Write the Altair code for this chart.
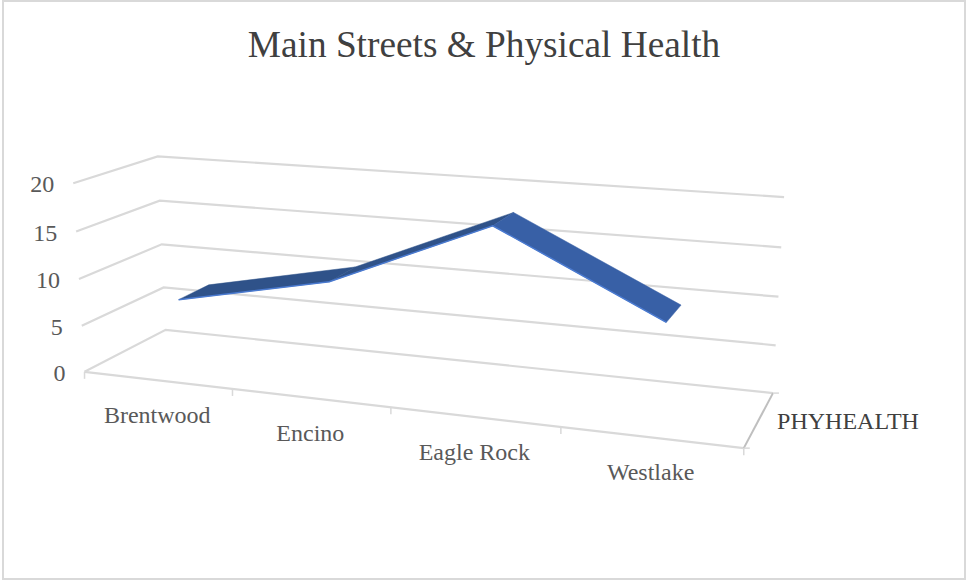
import altair as alt
import numpy as np
import pandas as pd

# Chart values
categories = ["Brentwood", "Encino", "Eagle Rock", "Westlake"]
phyhealth = [7.3, 10.7, 17.7, 9.7]
value_ticks = [0, 5, 10, 15, 20]
series_name = "PHYHEALTH"
chart_title = "Main Streets & Physical Health"

GRID = "#d9d9d9"
AXIS = "#bfbfbf"
LABEL = "#595959"
RISING = "#2f5289"
FALLING = "#3860a6"
EDGE = "#4a7ad0"
FONT = "Liberation Serif"

# Perspective camera for the 3-D box: (along categories, depth, value / 20) to screen
CAMERA = np.array([
    [561.15548, 96.3121, -13.53792, 84.53319],
    [17.21601, -11.69376, -194.26409, 371.83343],
    [-0.13187, 0.09182, -0.0309, 1.0],
])
RIBBON_FRONT, RIBBON_BACK = 0.30, 0.69


def project(along, depth, level):
    h = CAMERA @ np.array([along, depth, level / 20.0, 1.0])
    return float(h[0] / h[2]), float(h[1] / h[2])


def slot(i):
    return (i + 0.5) / len(categories)


def vertex(group, order, along, depth, level, **extra):
    x, y = project(along, depth, level)
    return {"group": group, "order": order, "x": x, "y": y, **extra}


# Walls and floor: each level runs front-left, back-left, back-right
grid_rows = []
for v in value_ticks:
    for k, (a, d) in enumerate([(0, 0), (0, 1), (1, 1)]):
        grid_rows.append(vertex(f"level{v}", k, a, d, v))
for k, a in enumerate([0, 1]):
    grid_rows.append(vertex("front", k, a, 0, 0))
depth_rows = [vertex("depth", k, 1, d, 0) for k, d in enumerate([0, 1])]

# Ribbon faces between neighbouring categories, closed back to their first vertex
face_rows = []
for i in range(len(categories) - 1):
    a0, a1 = slot(i), slot(i + 1)
    v0, v1 = phyhealth[i], phyhealth[i + 1]
    tone = "rising" if v1 >= v0 else "falling"
    corners = [(a0, RIBBON_FRONT, v0), (a1, RIBBON_FRONT, v1), (a1, RIBBON_BACK, v1),
               (a0, RIBBON_BACK, v0), (a0, RIBBON_FRONT, v0)]
    for k, c in enumerate(corners):
        face_rows.append(vertex(f"face{i}", k, *c, tone=tone))
edge_rows = [vertex("edge", i, slot(i), RIBBON_FRONT, v, category=categories[i], value=v)
             for i, v in enumerate(phyhealth)]

# Tick marks hang below the front edge of the floor
tick_rows = []
for i in range(len(categories) + 1):
    x, y = project(i / len(categories), 0, 0)
    tick_rows.append({"x": x, "y": y, "y2": y + 7})
for d in [0, 1]:
    x, y = project(1, d, 0)
    tick_rows.append({"x": x, "y": y, "y2": y, "x2": x + 6})

value_label_rows = [{"x": project(0, 0, v)[0], "y": project(0, 0, v)[1], "label": str(v)}
                    for v in value_ticks]
category_label_rows = [{"x": project(slot(i), 0, 0)[0], "y": project(slot(i), 0, 0)[1], "label": c}
                       for i, c in enumerate(categories)]
dx_, dy_ = project(1, 0.5, 0)
series_label_rows = [{"x": dx_, "y": dy_, "label": series_name}]

# Pixel-for-pixel position scales inside the framed plot area
X_SCALE = alt.Scale(domain=[3, 965], range=[0, 962], nice=False, zero=False)
Y_SCALE = alt.Scale(domain=[579, 1], range=[578, 0], nice=False, zero=False)
xq = alt.X("x:Q", scale=X_SCALE, axis=None)
yq = alt.Y("y:Q", scale=Y_SCALE, axis=None)

grid = alt.Chart(pd.DataFrame(grid_rows)).mark_line(color=GRID, strokeWidth=2.2).encode(
    x=xq, y=yq, detail="group:N", order="order:Q")
depth_axis = alt.Chart(pd.DataFrame(depth_rows)).mark_line(color=AXIS, strokeWidth=2).encode(
    x=xq, y=yq, detail="group:N", order="order:Q")
ticks_down = alt.Chart(pd.DataFrame(tick_rows[:5])).mark_rule(color=GRID, strokeWidth=1.5).encode(
    x=xq, y=yq, y2="y2:Q")
ticks_side = alt.Chart(pd.DataFrame(tick_rows[5:])).mark_rule(color=GRID, strokeWidth=1.5).encode(
    x=xq, x2="x2:Q", y=yq)

faces = []
for tone, color in [("rising", RISING), ("falling", FALLING)]:
    subset = [r for r in face_rows if r["tone"] == tone]
    faces.append(
        alt.Chart(pd.DataFrame(subset)).mark_line(
            fill=color, stroke=color, strokeWidth=0.5, strokeJoin="miter"
        ).encode(x=xq, y=yq, detail="group:N", order="order:Q")
    )
front_edge = alt.Chart(pd.DataFrame(edge_rows)).mark_line(
    color=EDGE, strokeWidth=1.5, strokeJoin="miter"
).encode(x=xq, y=yq, order="order:Q")

text_style = dict(font=FONT, fontSize=24)
value_labels = alt.Chart(pd.DataFrame(value_label_rows)).mark_text(
    align="right", baseline="middle", color=LABEL, dx=-19, dy=2, **text_style
).encode(x=xq, y=yq, text="label:N")
category_labels = alt.Chart(pd.DataFrame(category_label_rows)).mark_text(
    align="center", baseline="middle", color=LABEL, dy=36, **text_style
).encode(x=xq, y=yq, text="label:N")
series_label = alt.Chart(pd.DataFrame(series_label_rows)).mark_text(
    align="left", baseline="middle", color="#404040", dx=18, dy=3, **text_style
).encode(x=xq, y=yq, text="label:N")

chart = (
    alt.layer(grid, depth_axis, ticks_down, ticks_side, *faces, front_edge,
              value_labels, category_labels, series_label)
    .properties(
        width=962,
        height=578,
        padding={"left": 3, "top": 1, "right": 2, "bottom": 2},
        autosize=alt.AutoSizeParams(type="none"),
        background="#ffffff",
        title=alt.TitleParams(
            chart_title, font=FONT, fontSize=37.3, fontWeight="normal", color="#404040",
            anchor="middle", frame="group", baseline="alphabetic", offset=-93,
        ),
    )
    .configure_view(stroke=GRID, strokeWidth=2)
)

chart.save("out.html", embed_options={"renderer": "svg", "actions": False})
